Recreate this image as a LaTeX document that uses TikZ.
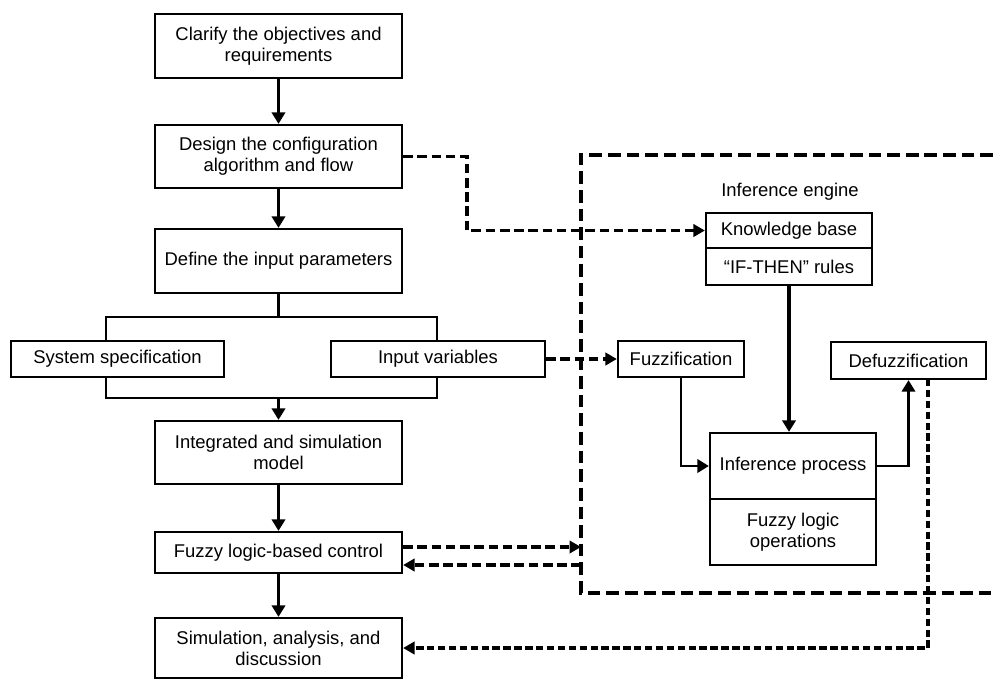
\documentclass[tikz,border=0pt]{standalone}
\usepackage{fontspec}
\setmainfont{Liberation Sans}
\usepackage{tikz}
\usetikzlibrary{arrows.meta,calc}
\tikzset{
    box/.style={draw, rectangle, line width=1.3pt, inner sep=0pt, align=center, minimum width=4.94cm, font=\fontsize{10.5}{11.9}\selectfont},
    plain/.style={inner sep=0pt, font=\fontsize{10.5}{11.9}\selectfont},
    flow/.style={line width=2.2pt, -{Triangle[length=6.5pt,width=7.5pt]}},
    thinflow/.style={line width=1.6pt, -{Triangle[length=6.5pt,width=7.5pt]}},
    dashlink/.style={line width=2.2pt, dash pattern=on 5.5pt off 2.6pt, -{Triangle[length=6.5pt,width=7pt]}},
    dashthin/.style={line width=1.8pt, dash pattern=on 4.2pt off 2pt, -{Triangle[length=6.5pt,width=7pt]}},
    framedash/.style={line width=2.6pt, dash pattern=on 7.2pt off 3.4pt}
}

\begin{document}
\begin{tikzpicture}[x=0.02cm, y=-0.02cm]
    \useasboundingbox (0,0) rectangle (993,680);

    % left column
    \node[box, minimum height=1.28cm] (clarify) at (278.5,46) {Clarify the objectives and\\requirements};
    \node[box, minimum height=1.26cm] (design) at (278.5,156.5) {Design the configuration\\algorithm and flow};
    \node[box, minimum height=1.28cm] (define) at (278.5,261) {Define the input parameters};
    \node[box, minimum width=4.26cm, minimum height=0.72cm] (sysspec) at (117.5,359) {System specification};
    \node[box, minimum width=4.28cm, minimum height=0.72cm] (inputvar) at (438,359) {Input variables};
    \node[box, minimum height=1.26cm] (integrated) at (278.5,452.5) {Integrated and simulation\\model};
    \node[box, minimum height=0.82cm] (fuzzyctrl) at (278.5,552.5) {Fuzzy logic-based control};
    \node[box, minimum height=1.2cm] (simulation) at (278.5,648) {Simulation, analysis, and\\discussion};

    % inference engine
    \coordinate (frameNW) at (581,155);
    \coordinate (frameSW) at (581,593);
    \draw[framedash] (993,155) -- (frameNW) -- (frameSW) -- (993,593);
    \node[plain] (engine) at (790,192) {Inference engine};
    \node[box, minimum width=3.32cm, minimum height=0.70cm] (knowledge) at (789,230.5) {Knowledge base};
    \node[box, minimum width=3.32cm, minimum height=0.74cm] (rules) at (789,266.5) {``IF-THEN'' rules};
    \node[box, minimum width=2.52cm, minimum height=0.72cm] (fuzzif) at (681,359) {Fuzzification};
    \node[box, minimum width=3.1cm, minimum height=0.74cm] (defuzz) at (908.5,360.5) {Defuzzification};
    \node[box, minimum width=3.32cm, minimum height=1.32cm] (infer) at (793,466) {Inference process};
    \node[box, minimum width=3.32cm, minimum height=1.32cm] (fuzzyops) at (793,532) {Fuzzy logic\\operations};

    % main flow
    \draw[flow] (clarify) -- (design);
    \draw[flow] (design) -- (define);
    \coordinate (splitL) at (106,317);
    \coordinate (splitR) at (437,317);
    \coordinate (joinL) at (106,398);
    \coordinate (joinR) at (437,398);
    \draw[line width=1.3pt] (define) -- (define |- splitL);
    \draw[line width=1.3pt] (sysspec.north -| splitL) -- (splitL) -- (splitR) -- (inputvar.north -| splitR);
    \draw[line width=1.3pt] (sysspec.south -| joinL) -- (joinL) -- (joinR) -- (inputvar.south -| joinR);
    \draw[flow] (joinL -| integrated) -- (integrated.north);
    \draw[flow] (integrated) -- (fuzzyctrl);
    \draw[flow] (fuzzyctrl) -- (simulation);

    % links to the engine
    \coordinate (kbturn) at (467,200);
    \draw[dashlink] (design.east) -| (kbturn) |- (knowledge.west);
    \draw[dashlink] (inputvar) -- (fuzzif);
    \coordinate (ctrlA) at ($(fuzzyctrl.east)+(0,-5.5)$);
    \coordinate (ctrlB) at ($(fuzzyctrl.east)+(0,12.5)$);
    \draw[dashlink] (ctrlA) -- (ctrlA -| frameNW);
    \draw[dashlink] (ctrlB -| frameNW) -- (ctrlB);

    % inside the engine
    \draw[flow] (rules.south) -- (rules.south |- infer.north);
    \draw[thinflow] (fuzzif.south) |- (infer.west);
    \draw[thinflow] (infer.east) -| (defuzz.south);
    \coordinate (defdrop) at (928,379);
    \draw[dashthin] (defdrop) |- (simulation.east);

\end{tikzpicture}
\end{document}
